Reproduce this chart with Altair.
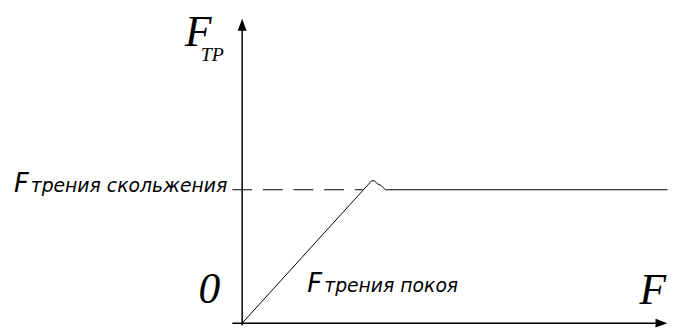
import altair as alt
import pandas as pd

# Friction force vs applied force (qualitative diagram, slide level = 1)
applied_force = [0.0, 1.065, 1.089, 1.114, 1.146, 1.179, 3.5]
friction_force = [0.0, 1.067, 1.067, 1.044, 1.030, 1.0, 1.0]
sliding_level = 1.0
dash_from, dash_to = -0.081, 0.99

# Axes extents
x_axis_from, x_axis_to = -0.081, 3.45
y_axis_from, y_axis_to = -0.015, 2.237

# Labels
serif_texts = ["F", "0", "F"]
serif_x = [-0.47, -0.36, 3.27]
serif_y = [2.08, 0.148, 0.141]
sub_text = ["ТР"]
sub_x = [-0.34]
sub_y = [1.965]
big_F_texts = ["F", "F"]
big_F_x = [-1.878, 0.535]
big_F_y = [0.985, 0.23]
name_texts = ["трения скольжения", "трения покоя"]
name_x = [-1.74, 0.675]
name_y = [0.985, 0.23]

XD = [-1.9268, 3.504]
YD = [-0.0444, 2.3481]
xs = alt.Scale(domain=XD, nice=False, zero=False)
ys = alt.Scale(domain=YD, nice=False, zero=False)


def X(f):
    return alt.X(f, type="quantitative", scale=xs, axis=None)


def Y(f):
    return alt.Y(f, type="quantitative", scale=ys, axis=None)


curve_df = pd.DataFrame({"F": applied_force, "Ffr": friction_force})
curve = alt.Chart(curve_df).mark_line(color="black", strokeWidth=1, clip=False).encode(
    x=X("F"), y=Y("Ffr"), order=alt.Order("F:Q")
)

dash_df = pd.DataFrame({"x1": [dash_from], "x2": [dash_to], "y": [sliding_level]})
dashed = alt.Chart(dash_df).mark_rule(color="black", strokeWidth=1, strokeDash=[20, 11]).encode(
    x=X("x1"), x2="x2", y=Y("y")
)

xaxis_df = pd.DataFrame({"x1": [x_axis_from], "x2": [x_axis_to], "y": [0.0]})
xaxis = alt.Chart(xaxis_df).mark_rule(color="black", strokeWidth=1.5).encode(
    x=X("x1"), x2="x2", y=Y("y")
)
yaxis_df = pd.DataFrame({"x": [0.0], "y1": [y_axis_from], "y2": [y_axis_to]})
yaxis = alt.Chart(yaxis_df).mark_rule(color="black", strokeWidth=1.5).encode(
    x=X("x"), y=Y("y1"), y2="y2"
)

arrow_up = alt.Chart(pd.DataFrame({"x": [0.0], "y": [y_axis_to]})).mark_point(
    shape="M 0 -1 L 0.75 1 L -0.75 1 Z", size=144, filled=True, color="black", opacity=1
).encode(x=X("x"), y=Y("y"))
arrow_right = alt.Chart(pd.DataFrame({"x": [x_axis_to], "y": [0.0]})).mark_point(
    shape="M 1 0 L -1 -0.75 L -1 0.75 Z", size=144, filled=True, color="black", opacity=1
).encode(x=X("x"), y=Y("y"))

serif = alt.Chart(pd.DataFrame({"t": serif_texts, "x": serif_x, "y": serif_y})).mark_text(
    font="Liberation Serif", fontStyle="italic", fontSize=44, align="left", baseline="alphabetic", color="black"
).encode(x=X("x"), y=Y("y"), text="t:N")

sub = alt.Chart(pd.DataFrame({"t": sub_text, "x": sub_x, "y": sub_y})).mark_text(
    font="Liberation Serif", fontStyle="italic", fontSize=20, align="left", baseline="alphabetic", color="black"
).encode(x=X("x"), y=Y("y"), text="t:N")

bigF = alt.Chart(pd.DataFrame({"t": big_F_texts, "x": big_F_x, "y": big_F_y})).mark_text(
    font="DejaVu Sans", fontStyle="italic", fontSize=26, align="left", baseline="alphabetic", color="black"
).encode(x=X("x"), y=Y("y"), text="t:N")

names = alt.Chart(pd.DataFrame({"t": name_texts, "x": name_x, "y": name_y})).mark_text(
    font="DejaVu Sans", fontStyle="italic", fontSize=19, align="left", baseline="alphabetic", color="black"
).encode(x=X("x"), y=Y("y"), text="t:N")

chart = alt.layer(
    dashed, curve, xaxis, yaxis, arrow_up, arrow_right, serif, sub, bigF, names
).properties(
    width=668, height=323, padding=0, autosize=alt.AutoSizeParams(type="none")
).configure_view(stroke=None)

chart.save("out.html", embed_options={"renderer": "svg", "actions": False})
